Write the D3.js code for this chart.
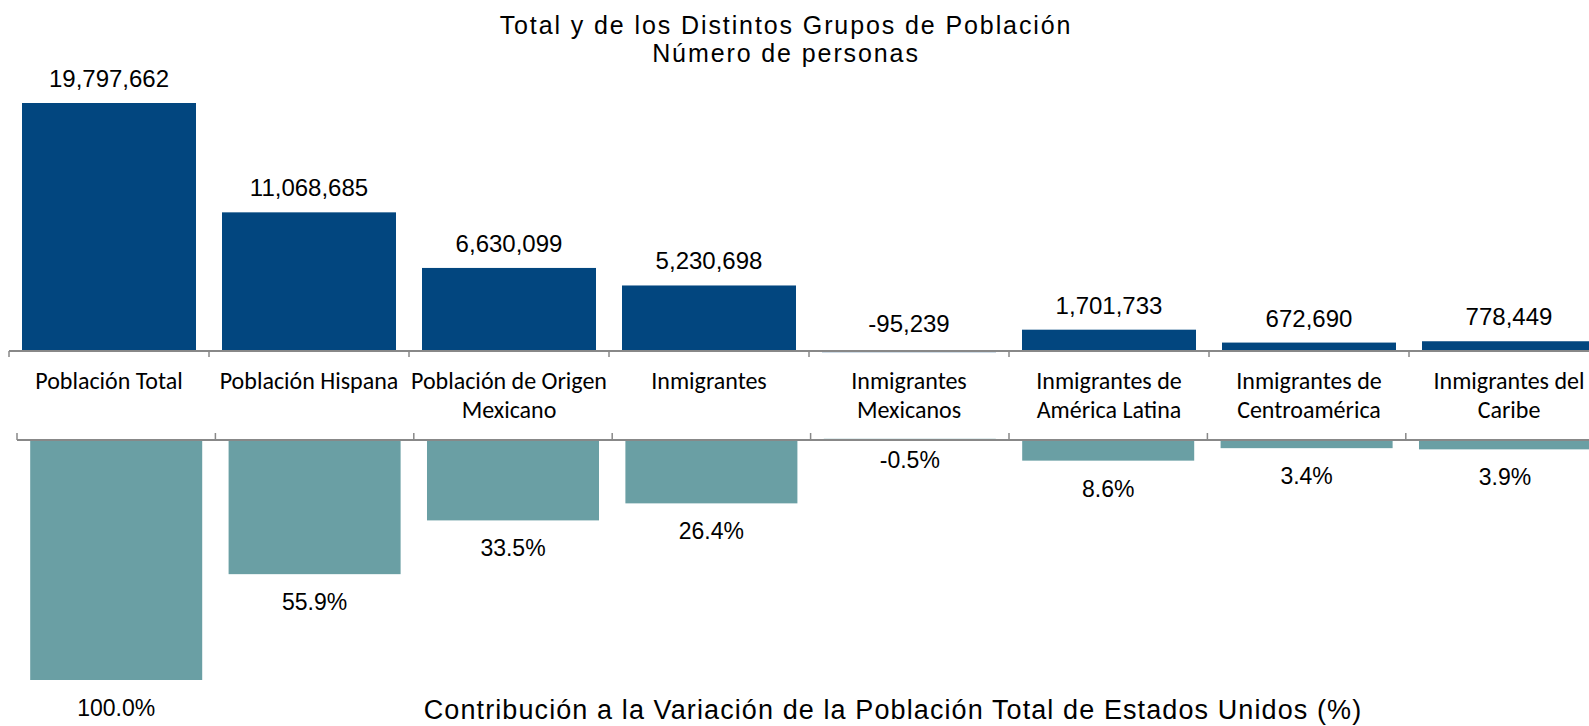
<!DOCTYPE html>
<html>
<head>
    <meta charset="UTF-8">
    <script src="https://cdn.jsdelivr.net/npm/d3@7"></script>
    <style>
        body { margin: 0; background: #fff; }
        text { font-family: "Liberation Sans", Arial, sans-serif; fill: #000; }
        .cat { font-family: Carlito, Calibri, Lato, sans-serif; }
    </style>
</head>
<body>
<svg width="1589" height="726"></svg>
<script type="text/javascript">
// categories (lines split with \n)
var categories = [
    "Población Total",
    "Población Hispana",
    "Población de Origen\nMexicano",
    "Inmigrantes",
    "Inmigrantes\nMexicanos",
    "Inmigrantes de\nAmérica Latina",
    "Inmigrantes de\nCentroamérica",
    "Inmigrantes del\nCaribe"
];
// number of persons (top panel)
var personas = [19797662, 11068685, 6630099, 5230698, -95239, 1701733, 672690, 778449];
// contribution to total change, % (bottom panel)
var contribucion = [100.0, 55.9, 33.5, 26.4, -0.5, 8.6, 3.4, 3.9];

var titleLines = ["Total y de los Distintos Grupos de Población", "Número de personas"];
var bottomTitle = "Contribución a la Variación de la Población Total de Estados Unidos (%)";

var svg = d3.select('svg');
// plain hyphen for negatives, like the original
var loc = d3.formatLocale({decimal: '.', thousands: ',', grouping: [3], currency: ['$', ''], minus: '-'});
var fmtNum = loc.format(',');
var fmtPct = function(v) { return loc.format('.1f')(v) + '%'; };

// ---- top panel ----
var xTop = d3.scaleBand().domain(categories).range([9, 1609])
    .paddingInner(0.13).paddingOuter(0.065);
var yTop = d3.scaleLinear().domain([0, 19797662]).range([351, 103]);

var gTop = svg.append('g');
gTop.selectAll('rect').data(personas).enter()
    .append('rect')
    .attr('x', function(d, i) { return xTop(categories[i]); })
    .attr('width', xTop.bandwidth())
    .attr('y', function(d) { return Math.min(yTop(d), yTop(0)); })
    .attr('height', function(d) { return Math.abs(yTop(d) - yTop(0)); })
    .attr('fill', '#02467f');

gTop.selectAll('text.val').data(personas).enter()
    .append('text').attr('class', 'val')
    .attr('x', function(d, i) { return xTop(categories[i]) + xTop.bandwidth() / 2; })
    .attr('y', function(d) { return d < 0 ? yTop(0) - 19 : yTop(d) - 16; })
    .attr('text-anchor', 'middle')
    .style('font-size', '24px')
    .text(function(d) { return fmtNum(d); });

// ---- bottom panel ----
var xBot = d3.scaleBand().domain(categories).range([17, 17 + 8 * 198.4])
    .paddingInner(0.133).paddingOuter(0.0665);
var yBot = d3.scaleLinear().domain([0, 100]).range([440, 680]);

var gBot = svg.append('g');
gBot.selectAll('rect').data(contribucion).enter()
    .append('rect')
    .attr('x', function(d, i) { return xBot(categories[i]); })
    .attr('width', xBot.bandwidth())
    .attr('y', function(d) { return Math.min(yBot(d), yBot(0)); })
    .attr('height', function(d) { return Math.abs(yBot(d) - yBot(0)); })
    .attr('fill', '#6a9fa4');

gBot.selectAll('text.val').data(contribucion).enter()
    .append('text').attr('class', 'val')
    .attr('x', function(d, i) { return xBot(categories[i]) + xBot.bandwidth() / 2; })
    .attr('y', function(d) { return d < 0 ? yBot(0) + 28 : yBot(d) + 36; })
    .attr('text-anchor', 'middle')
    .style('font-size', '23px')
    .text(function(d) { return fmtPct(d); });

// ---- axes (category lines with ticks between groups) ----
function catAxis(g, x, y0, tickLen) {
    var r = x.range(), step = x.step();
    g.append('line').attr('x1', r[0]).attr('x2', r[1]).attr('y1', y0).attr('y2', y0)
        .attr('stroke', '#888').attr('stroke-width', 2);
    g.selectAll('line.tick').data(d3.range(categories.length + 1)).enter()
        .append('line').attr('class', 'tick')
        .attr('x1', function(i) { return r[0] + i * step; })
        .attr('x2', function(i) { return r[0] + i * step; })
        .attr('y1', y0).attr('y2', y0 + tickLen)
        .attr('stroke', '#888').attr('stroke-width', 1.5);
}
catAxis(svg.append('g'), xTop, yTop(0), 6);
catAxis(svg.append('g'), xBot, yBot(0), -7);

// category labels
var cats = svg.append('g');
categories.forEach(function(c, i) {
    var t = cats.append('text').attr('class', 'cat')
        .attr('x', xTop(c) + xTop.bandwidth() / 2)
        .attr('y', 389)
        .attr('text-anchor', 'middle')
        .style('font-size', '24px');
    c.split('\n').forEach(function(line, j) {
        t.append('tspan').attr('x', xTop(c) + xTop.bandwidth() / 2)
            .attr('dy', j === 0 ? 0 : 29).text(line);
    });
});

// titles
svg.selectAll('text.title').data(titleLines).enter()
    .append('text').attr('class', 'title')
    .attr('x', 786)
    .attr('y', function(d, i) { return 34 + i * 28; })
    .attr('text-anchor', 'middle')
    .style('font-size', '25px')
    .style('letter-spacing', '1.9px')
    .text(function(d) { return d; });

svg.append('text')
    .attr('x', 893)
    .attr('y', 719)
    .attr('text-anchor', 'middle')
    .style('font-size', '27px')
    .style('letter-spacing', '1.1px')
    .text(bottomTitle);
</script>
</body>
</html>
